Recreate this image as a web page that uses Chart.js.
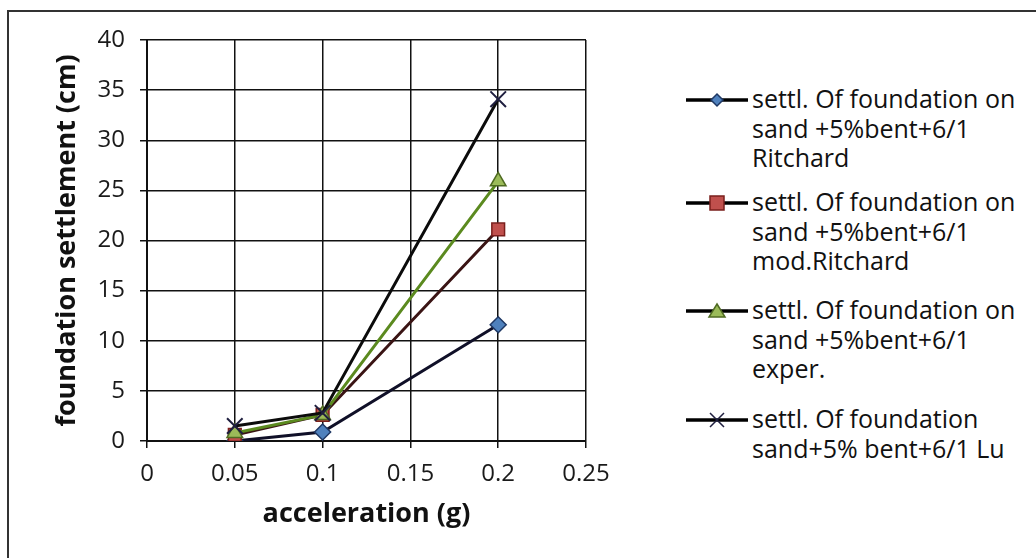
<!DOCTYPE html>
<html>
<head>
<meta charset="utf-8">
<script src="https://cdn.jsdelivr.net/npm/chart.js@4"></script>
<style>
  body { margin: 0; background: #fff; font-family: "Open Sans", sans-serif; }
  #wrap { position: relative; width: 1036px; height: 558px; overflow: hidden; }
  #frame { position: absolute; left: 7px; top: 10px; width: 1100px; height: 600px;
           border-left: 2px solid #333; border-top: 2px solid #333; }
  #box { position: absolute; left: 0; top: 0; width: 660px; height: 558px; }
  #legend { position: absolute; left: 686px; top: 0; }
  .item { position: absolute; left: 0; width: 350px; }
  .item svg { position: absolute; left: 0; top: 5px; }
  .item span { position: absolute; left: 66px; top: 0; font-size: 25px; line-height: 29.5px; color: #111; white-space: nowrap; }
</style>
</head>
<body>
<div id="wrap">
  <div id="frame"></div>
  <div id="box"><canvas id="chart"></canvas></div>
  <div id="legend"></div>
</div>
<script>
// acceleration (g) and settlement values (cm)
const accel = [0.05, 0.1, 0.2];
const ritchard = [0, 0.9, 11.6];
const modRitchard = [0.6, 2.6, 21.1];
const exper = [0.8, 2.6, 25.9];
const lu = [1.5, 2.8, 34.1];

const labels = [
    ['settl. Of foundation on', 'sand +5%bent+6/1', 'Ritchard'],
    ['settl. Of foundation on', 'sand +5%bent+6/1', 'mod.Ritchard'],
    ['settl. Of foundation on', 'sand +5%bent+6/1', 'exper.'],
    ['settl. Of foundation', 'sand+5% bent+6/1 Lu']
];
const xTicks = [0, 0.05, 0.1, 0.15, 0.2, 0.25];
const yTicks = [0, 5, 10, 15, 20, 25, 30, 35, 40];

const styles = [
    { line: '#101028', fill: '#4f81bd', border: '#1f3864', shape: 'rectRot', r: 8 },
    { line: '#3a1414', fill: '#c0504d', border: '#7a1f1c', shape: 'rect', r: 9 },
    { line: '#5b8a1f', fill: '#9bbb59', border: '#4f6b22', shape: 'triangle', r: 9 },
    { line: '#0b0b0b', fill: '#1f1f3f', border: '#1f1f3f', shape: 'crossRot', r: 11 }
];
const series = [ritchard, modRitchard, exper, lu];

function pts(vals) {
    return accel.map((a, i) => ({ x: a, y: vals[i] }));
}

const datasets = series.map((vals, i) => ({
    label: labels[i].join(' '),
    data: pts(vals),
    showLine: true,
    borderColor: styles[i].line,
    borderWidth: 3,
    pointStyle: styles[i].shape,
    pointRadius: styles[i].r,
    pointBackgroundColor: styles[i].fill,
    pointBorderColor: styles[i].border,
    pointBorderWidth: i === 3 ? 2 : 1.5,
    tension: 0,
    order: 4 - i
}));

const tickFont = { family: 'Open Sans', size: 24 };
const titleFont = { family: 'Open Sans', size: 27, weight: 'bold' };

new Chart(document.getElementById('chart'), {
    type: 'scatter',
    data: { datasets: datasets },
    options: {
        responsive: true,
        maintainAspectRatio: false,
        animation: false,
        layout: { padding: { top: 40, right: 74, left: 0, bottom: 0 } },
        plugins: { legend: { display: false }, tooltip: { enabled: false } },
        scales: {
            x: {
                type: 'linear', min: 0, max: 0.25,
                afterBuildTicks: s => { s.ticks = xTicks.map(v => ({ value: v })); },
                afterFit: s => { s.height = 117; },
                grid: { color: '#111', lineWidth: 1.5, tickLength: 7 },
                border: { color: '#111', width: 2 },
                ticks: { font: tickFont, color: '#1a1a1a', padding: 12, maxRotation: 0,
                         callback: v => String(v) },
                title: { display: true, text: 'acceleration (g)', font: titleFont, color: '#111',
                         padding: { top: 0, bottom: 27 } }
            },
            y: {
                min: 0, max: 40,
                afterBuildTicks: s => { s.ticks = yTicks.map(v => ({ value: v })); },
                afterFit: s => { s.width = 147; },
                grid: { color: '#111', lineWidth: 1.5, tickLength: 7 },
                border: { color: '#111', width: 2 },
                ticks: { font: tickFont, color: '#1a1a1a', padding: 15 },
                title: { display: true, text: 'foundation settlement (cm)', font: titleFont, color: '#111',
                         padding: { top: 51, bottom: 0 } }
            }
        }
    }
});

// legend built as HTML so the labels can wrap over several lines
const legend = document.getElementById('legend');
const tops = [84, 187, 295, 404];
function markerSvg(st) {
    let m = '';
    const cx = 31, cy = 11;
    if (st.shape === 'rectRot') m = `<polygon points="${cx},${cy-6} ${cx+6},${cy} ${cx},${cy+6} ${cx-6},${cy}" fill="${st.fill}" stroke="${st.border}" stroke-width="1.5"/>`;
    if (st.shape === 'rect') m = `<rect x="${cx-7}" y="${cy-7}" width="14" height="14" fill="${st.fill}" stroke="${st.border}" stroke-width="1.5"/>`;
    if (st.shape === 'triangle') m = `<polygon points="${cx},${cy-7} ${cx+8},${cy+6} ${cx-8},${cy+6}" fill="${st.fill}" stroke="${st.border}" stroke-width="1.5"/>`;
    if (st.shape === 'crossRot') m = `<path d="M${cx-7} ${cy-7} L${cx+7} ${cy+7} M${cx+7} ${cy-7} L${cx-7} ${cy+7}" stroke="${st.border}" stroke-width="1.5"/>`;
    return `<svg width="62" height="22"><line x1="0" y1="${cy}" x2="62" y2="${cy}" stroke="#000" stroke-width="3.5"/>${m}</svg>`;
}
labels.forEach((lines, i) => {
    const div = document.createElement('div');
    div.className = 'item';
    div.style.top = tops[i] + 'px';
    div.innerHTML = markerSvg(styles[i]) + `<span>${lines.join('<br>')}</span>`;
    legend.appendChild(div);
});
</script>
</body>
</html>
